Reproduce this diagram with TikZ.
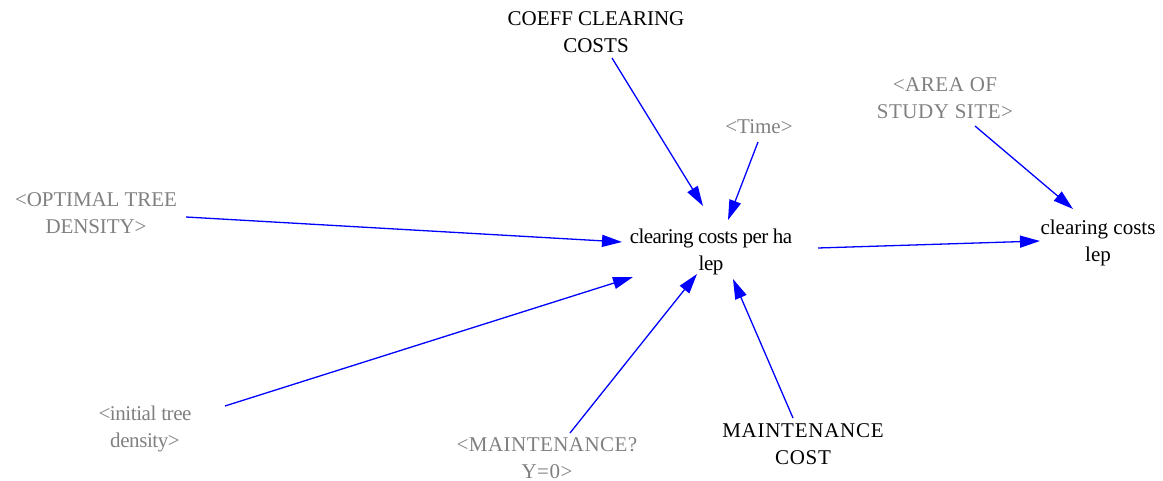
\documentclass[tikz,border=0pt]{standalone}
\usepackage{fontspec}
\setmainfont{Liberation Serif}
\usetikzlibrary{arrows.meta}
\definecolor{shadowgrey}{RGB}{128,128,128}
\begin{document}
\begin{tikzpicture}[x=1pt,y=-1pt,
  var/.style={align=center,inner sep=0pt,
    font=\fontsize{21}{27}\selectfont\addfontfeatures{LetterSpace=#1}},
  var/.default=0,
  shadow/.style={var=#1,text=shadowgrey},
  shadow/.default=0,
  link/.style={draw=blue,line width=1.3pt,-{Triangle[length=20pt,width=12pt]}}]
\useasboundingbox (0,0) rectangle (1163,481);

% variables
\node[var=0] (coeff) at (596,32) {COEFF CLEARING\\COSTS};
\node[shadow=0] (time) at (759,127) {<Time>};
\node[shadow=2.5] (area) at (945,98) {<AREA OF\\STUDY SITE>};
\node[shadow=-0.5] (opt) at (96,213) {<OPTIMAL TREE\\DENSITY>};
\node[var=-2.7] (ccph) at (711,252) {clearing costs per ha\\lep};
\node[var=0] (cc) at (1098,243) {clearing costs\\lep};
\node[shadow=-2] (init) at (145,429) {<initial tree\\density>};
\node[shadow=2.2] (maint) at (547,458) {<MAINTENANCE?\\Y=0>};
\node[var=3.5] (mcost) at (803,444) {MAINTENANCE\\COST};

% causal links
\draw[link] ([shift={(16,26)}]coeff.center) -- ([shift={(-8,-46)}]ccph.center);
\draw[link] ([shift={(-1,15)}]time.center) -- ([shift={(17,-32)}]ccph.center);
\draw[link] ([shift={(90,4)}]opt.center) -- ([shift={(-89,-10)}]ccph.center);
\draw[link] ([shift={(80,-23)}]init.center) -- ([shift={(-78,25)}]ccph.center);
\draw[link] ([shift={(23,-25)}]maint.center) -- ([shift={(-14,22)}]ccph.center);
\draw[link] ([shift={(-10,-26)}]mcost.center) -- ([shift={(22,27)}]ccph.center);
\draw[link] ([shift={(107,-4)}]ccph.center) -- ([shift={(-58,-2)}]cc.center);
\draw[link] ([shift={(30,28)}]area.center) -- ([shift={(-25,-34)}]cc.center);
\end{tikzpicture}
\end{document}
